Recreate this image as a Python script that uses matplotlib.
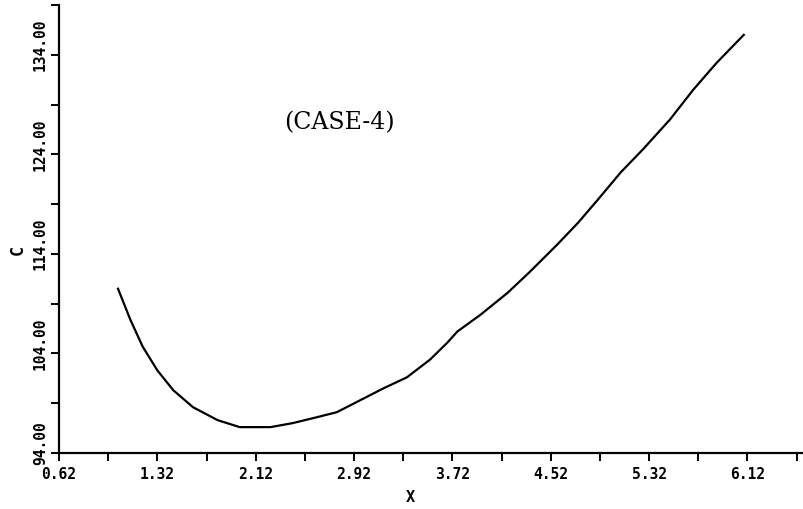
import matplotlib.pyplot as plt
import matplotlib.transforms as mtransforms
import numpy as np

# curve
x_vals = [1.00, 1.10, 1.20, 1.32, 1.45, 1.61, 1.81, 1.99, 2.16, 2.24, 2.42, 2.62,
          2.78, 2.97, 3.16, 3.35, 3.54, 3.68, 3.76, 3.95, 4.17, 4.35, 4.57, 4.74,
          4.90, 5.09, 5.27, 5.49, 5.68, 5.87, 6.09]
c_vals = [110.5, 107.4, 104.7, 102.3, 100.3, 98.6, 97.3, 96.6, 96.6, 96.6, 97.0, 97.6,
          98.1, 99.3, 100.5, 101.6, 103.4, 105.1, 106.2, 107.9, 110.1, 112.2, 114.9, 117.1,
          119.4, 122.2, 124.5, 127.5, 130.5, 133.2, 136.0]

x_major = [0.52, 1.32, 2.12, 2.92, 3.72, 4.52, 5.32, 6.12]
x_labels = ['0.62', '1.32', '2.12', '2.92', '3.72', '4.52', '5.32', '6.12']
y_major = [94, 104, 114, 124, 134]
y_labels = ['94.00', '104.00', '114.00', '124.00', '134.00']

fig = plt.figure(figsize=(8.04, 5.09), dpi=100)
ax = fig.add_axes([59 / 804, 56 / 509, 745 / 804, 448 / 509])

ax.plot(x_vals, c_vals, color='black', lw=1.6)

ax.set_xlim(0.52, 6.58)
ax.set_ylim(94, 139)
ax.spines['top'].set_visible(False)
ax.spines['right'].set_visible(False)
ax.spines['left'].set_linewidth(1.6)
ax.spines['bottom'].set_linewidth(1.6)

ax.set_xticks(x_major)
ax.set_xticks(np.arange(0.92, 6.6, 0.8), minor=True)
ax.set_yticks(y_major)
ax.set_yticks(np.arange(99, 140, 10), minor=True)
ax.tick_params(which='both', direction='out', length=6, width=1.4, color='black')
ax.tick_params(axis='x', pad=4)
ax.tick_params(axis='y', pad=2)

ax.set_xticklabels(x_labels, fontfamily='DejaVu Sans Mono', fontweight='bold', fontsize=10.5)
ax.set_yticklabels(y_labels, rotation=90, va='center',
                   fontfamily='DejaVu Sans Mono', fontweight='bold', fontsize=10.5)
shift = mtransforms.ScaledTranslation(0, 0.1, fig.dpi_scale_trans)
for lab in ax.get_yticklabels():
    lab.set_transform(lab.get_transform() + shift)

fig.text(410 / 804, 1 - 497 / 509, 'X', ha='center', va='center',
         fontfamily='DejaVu Sans Mono', fontweight='bold', fontsize=11)
fig.text(18 / 804, 1 - 250 / 509, 'C', ha='center', va='center', rotation=90,
         fontfamily='DejaVu Sans Mono', fontweight='bold', fontsize=12)

ax.text(2.80, 127.2, '(CASE-4)', ha='center', va='center',
        fontfamily='DejaVu Serif', fontsize=17)

fig.savefig('out.png', dpi=100)
